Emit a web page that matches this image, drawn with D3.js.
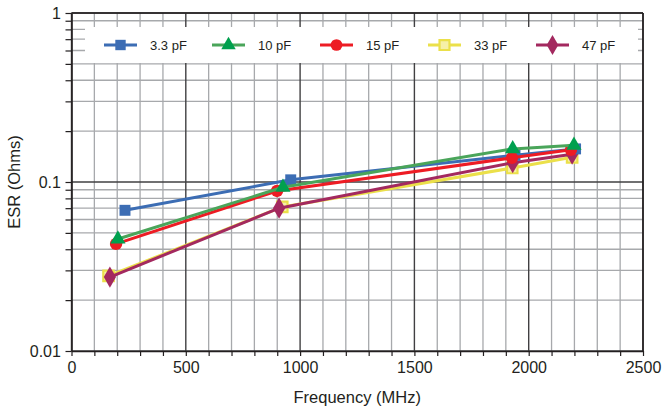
<!DOCTYPE html>
<html><head><meta charset="utf-8">
<script src="https://cdn.jsdelivr.net/npm/d3@7"></script>
<style>
body{margin:0;background:#fff;}
text{font-family:"Liberation Sans",Arial,sans-serif;fill:#231f20;}
</style></head>
<body><svg id="c" width="664" height="413"></svg>
<script>
// Data
const seriesNames = ["3.3 pF","10 pF","15 pF","33 pF","47 pF"];
const freq33 = [234, 959, 1940, 2205];
const esr33  = [0.068, 0.103, 0.144, 0.157];
const freq10 = [203, 925, 1930, 2198];
const esr10  = [0.046, 0.093, 0.157, 0.165];
const freq15 = [195, 899, 1927, 2185];
const esr15  = [0.043, 0.0885, 0.139, 0.155];
const freq33b = [162, 922, 1928, 2190];
const esr33b  = [0.0278, 0.0712, 0.121, 0.140];
const freq47 = [168, 908, 1930, 2190];
const esr47  = [0.0274, 0.070, 0.130, 0.146];
const xTicks = [0,500,1000,1500,2000,2500];
const yTicks = [0.01,0.1,1];

const colors = ["#3c6db4","#4aa55a","#ed1c24","#ebe04a","#a3295f"];
const markerColors = ["#3c6db4","#00a04e","#ed1c24","#ebe04a","#a3295f"];
const symbols = [d3.symbolSquare, d3.symbolTriangle, d3.symbolCircle, d3.symbolSquare, d3.symbolDiamond];
const sizes = [120, 100, 120, 110, 130];

const series = [
  {name:seriesNames[0], x:freq33, y:esr33},
  {name:seriesNames[1], x:freq10, y:esr10},
  {name:seriesNames[2], x:freq15, y:esr15},
  {name:seriesNames[3], x:freq33b, y:esr33b},
  {name:seriesNames[4], x:freq47, y:esr47}
];

const svg = d3.select("#c");
const L=71.5, R=643, T=13, B=351;
const x = d3.scaleLinear().domain([0,2500]).range([L,R]);
const y = d3.scaleLog().domain([0.01,1]).range([B,T]);

// minor grid
const minorX = d3.range(100,2500,100).filter(v=>v%500!==0);
const minorY = [];
[0.01,0.1].forEach(d=>{for(let k=2;k<=9;k++) minorY.push(d*k);});
const g = svg.append("g");
g.selectAll(".mx").data(minorX).enter().append("line")
 .attr("x1",d=>x(d)).attr("x2",d=>x(d)).attr("y1",T).attr("y2",B)
 .attr("stroke","#a7a9ac").attr("stroke-width",1.3);
g.selectAll(".my").data(minorY).enter().append("line")
 .attr("x1",L).attr("x2",R).attr("y1",d=>y(d)).attr("y2",d=>y(d))
 .attr("stroke","#a7a9ac").attr("stroke-width",1.3);
// major grid
g.selectAll(".Mx").data(xTicks).enter().append("line")
 .attr("x1",d=>x(d)).attr("x2",d=>x(d)).attr("y1",T).attr("y2",B)
 .attr("stroke","#414042").attr("stroke-width",1.4);
g.selectAll(".My").data(yTicks).enter().append("line")
 .attr("x1",L).attr("x2",R).attr("y1",d=>y(d)).attr("y2",d=>y(d))
 .attr("stroke","#414042").attr("stroke-width",1.4);

// axes
const xAxis = d3.axisBottom(x).tickValues(d3.range(0,2501,100)).tickSize(5).tickSizeOuter(0)
  .tickFormat(d=>xTicks.includes(d)?d:"");
const xa = svg.append("g").attr("transform",`translate(0,${B})`).call(xAxis);
const yAxis = d3.axisLeft(y).tickValues(minorY.concat(yTicks))
  .tickSize(6).tickSizeOuter(0).tickFormat(d=>yTicks.includes(d)?String(d):"");
const ya = svg.append("g").attr("transform",`translate(${L},0)`).call(yAxis);
[xa,ya].forEach(a=>{
  a.select(".domain").attr("stroke","#231f20").attr("stroke-width",1.6);
  a.selectAll(".tick line").attr("stroke","#231f20").attr("stroke-width",1.2);
  a.selectAll(".tick text").attr("font-size",16).attr("font-family","Liberation Sans, Arial, sans-serif").attr("fill","#231f20");
});
xa.selectAll(".tick text").attr("dy","0.9em");
ya.selectAll(".tick text").attr("dx","-0.1em");
// top/right border
svg.append("line").attr("x1",L).attr("x2",R).attr("y1",T).attr("y2",T).attr("stroke","#231f20").attr("stroke-width",1.6);
svg.append("line").attr("x1",R).attr("x2",R).attr("y1",T).attr("y2",B).attr("stroke","#231f20").attr("stroke-width",1.6);

// axis titles
svg.append("text").attr("x",(L+R)/2).attr("y",403).attr("text-anchor","middle").attr("font-size",16.5).text("Frequency (MHz)");
svg.append("text").attr("transform",`translate(20,${(T+B)/2}) rotate(-90)`).attr("text-anchor","middle").attr("font-size",16.5).text("ESR (Ohms)");

// legend
svg.append("rect").attr("x",85).attr("y",27).attr("width",553).attr("height",36).attr("fill","#fff");
const leg = svg.append("g");
series.forEach((s,i)=>{
  const lx = 104 + i*108, ly = 45;
  leg.append("line").attr("x1",lx).attr("x2",lx+33).attr("y1",ly).attr("y2",ly)
     .attr("stroke",colors[i]).attr("stroke-width",3);
  leg.append("path").attr("d",d3.symbol(symbols[i],sizes[i]*0.9)())
     .attr("transform",`translate(${lx+16.5},${ly})`)
     .attr("fill",i===3?"#f6f0a8":markerColors[i]).attr("stroke",i===3?markerColors[i]:"none").attr("stroke-width",2.2);
  leg.append("text").attr("x",lx+46).attr("y",ly+5).attr("font-size",13).text(s.name);
});

// lines and markers
const line = d3.line().x(d=>x(d[0])).y(d=>y(d[1]));
const order = [3,4,0,2,1];
order.forEach(i=>{
  const s = series[i];
  const pts = s.x.map((v,k)=>[v,s.y[k]]);
  svg.append("path").datum(pts).attr("d",line).attr("fill","none")
     .attr("stroke",colors[i]).attr("stroke-width",3);
  svg.selectAll(null).data(pts).enter().append("path")
     .attr("d",d3.symbol(symbols[i],sizes[i])())
     .attr("transform",d=>`translate(${x(d[0])},${y(d[1])})`)
     .attr("fill",i===3?"#f6f0a8":markerColors[i]).attr("stroke",i===3?markerColors[i]:"none").attr("stroke-width",2.2);
});
</script></body></html>
